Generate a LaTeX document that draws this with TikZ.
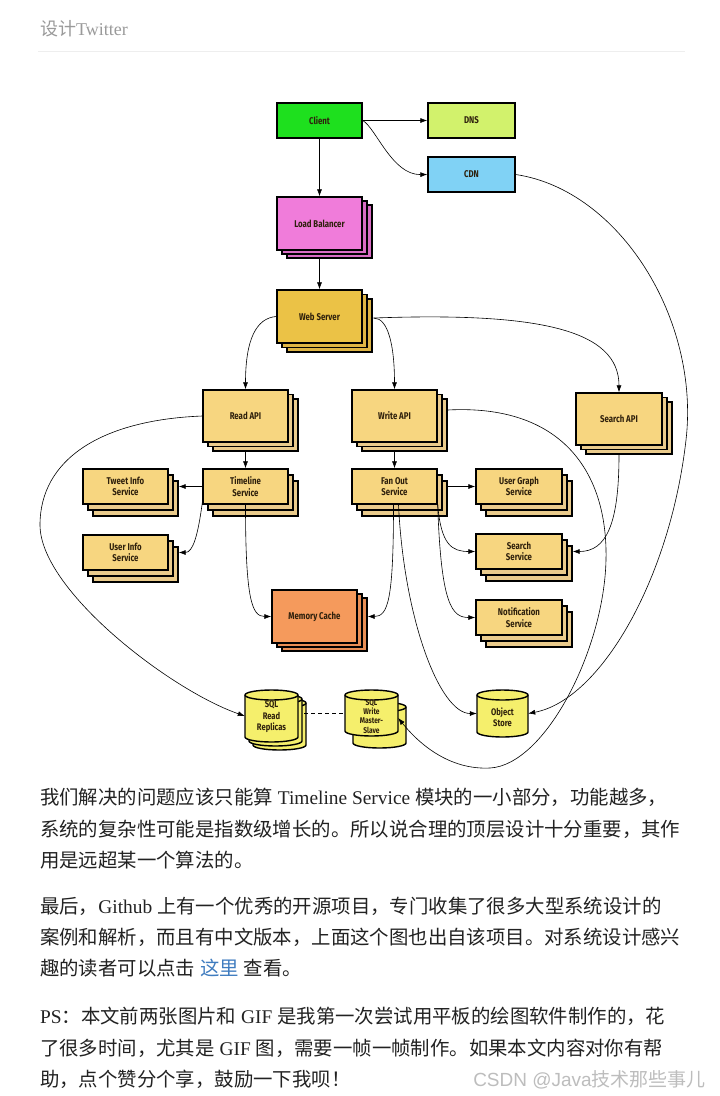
\documentclass[tikz,border=0pt]{standalone}
\usepackage{fontspec}
\setmainfont{Liberation Serif}
\newfontfamily\cjk{Noto Sans CJK SC}
\newfontfamily\hand{Fira Sans}[FakeStretch=0.8]
\newfontfamily\wmsans{Liberation Sans}
\usetikzlibrary{arrows.meta,calc}
\definecolor{clientG}{HTML}{1EE01E}
\definecolor{dnsC}{HTML}{D2F26C}
\definecolor{cdnC}{HTML}{80D2F5}
\definecolor{lbF}{HTML}{F07CDA}
\definecolor{lbB}{HTML}{D96CC4}
\definecolor{webF}{HTML}{EBC246}
\definecolor{webB}{HTML}{DDB444}
\definecolor{apiF}{HTML}{F7D680}
\definecolor{apiB}{HTML}{EACB8C}
\definecolor{memF}{HTML}{F59A5C}
\definecolor{memB}{HTML}{E88E55}
\definecolor{cylC}{HTML}{F5EF6C}
\definecolor{txtC}{HTML}{222222}
\definecolor{boxtxt}{HTML}{2E200C}
\definecolor{linkC}{HTML}{3F7CBF}
\definecolor{titleC}{HTML}{9A9A9A}
\definecolor{ruleC}{HTML}{EEEEEE}
\definecolor{wmC}{HTML}{BDBDBD}
\tikzset{
  box/.style={draw=black, line width=1.4pt, inner sep=0pt, align=center,
    text=boxtxt, font=\hand\bfseries\fontsize{9.8}{11.5}\selectfont},
  layer/.style={draw=black, line width=1.4pt},
  cylst/.style={draw=black, line width=1.4pt, fill=cylC},
  cyltxt/.style={inner sep=0pt, align=center, text=boxtxt,
    font=\hand\bfseries\fontsize{9.5}{11.5}\selectfont},
  arr/.style={-{Latex[length=7pt,width=5pt]}, line width=0.6pt},
  body/.style={anchor=base west, inner sep=0pt, text=txtC,
    font=\fontsize{19.4}{24}\selectfont},
}
% stacked box: name, x1, y1, x2, y2, front colour, back colour, dy, text
\newcommand{\mkstack}[9]{%
  \filldraw[layer, fill=#7] ({#2+10},{#3+2*#8}) rectangle ({#4+10},{#5+2*#8});
  \filldraw[layer, fill=#7] ({#2+5},{#3+#8}) rectangle ({#4+5},{#5+#8});
  \node[box, fill=#6, minimum width={#4-#2}, minimum height={#5-#3}]
    (#1) at ({(#2+#4)/2},{(#3+#5)/2}) {#9};
}
% cylinder outline: x1, y1, x2, y2
\newcommand{\cylshape}[4]{%
  \pgfmathsetmacro\crx{(#3-#1)/2}%
  \filldraw[cylst] (#1,{#2+5}) -- (#1,{#4-5})
    arc[start angle=180, end angle=360, x radius=\crx pt, y radius=5pt]
    -- (#3,{#2+5})
    arc[start angle=0, end angle=180, x radius=\crx pt, y radius=5pt] -- cycle;
  \draw[cylst, fill=none] (#1,{#2+5})
    arc[start angle=180, end angle=360, x radius=\crx pt, y radius=5pt];
}
\begin{document}
\begin{tikzpicture}[x=1pt, y=-1pt]
\useasboundingbox (0,0) rectangle (720,1096);
\fill[white] (0,0) rectangle (720,1096);

% header
\node[anchor=base west, inner sep=0pt, text=titleC, font=\fontsize{18}{22}\selectfont]
  (title) at (40,35.5) {{\cjk 设计}Twitter};
\draw[ruleC, line width=0.8pt] (38,51) -- (685,51);

% single boxes
\node[box, fill=clientG, minimum width=85, minimum height=35] (client) at (319.5,120.5) {Client};
\node[box, fill=dnsC, minimum width=87, minimum height=35] (dns) at (471.5,120.5) {DNS};
\node[box, fill=cdnC, minimum width=87, minimum height=35] (cdn) at (471.5,174.5) {CDN};

% stacked boxes
\mkstack{lb}{277}{197}{362}{250}{lbF}{lbB}{4}{Load Balancer}
\mkstack{web}{277}{290}{362}{343}{webF}{webB}{4.5}{Web Server}
\mkstack{read}{203}{390}{288}{442}{apiF}{apiB}{4.5}{Read API}
\mkstack{write}{352}{390}{437}{442}{apiF}{apiB}{4.5}{Write API}
\mkstack{sapi}{576}{393}{662}{445}{apiF}{apiB}{4.5}{Search API}
\mkstack{timeline}{203}{469}{288}{504}{apiF}{apiB}{6}{Timeline\\Service}
\mkstack{fanout}{352}{469}{437}{504}{apiF}{apiB}{6}{Fan Out\\Service}
\mkstack{tweet}{83}{469}{168}{504}{apiF}{apiB}{6}{Tweet Info\\Service}
\mkstack{userinfo}{83}{535}{168}{570}{apiF}{apiB}{6}{User Info\\Service}
\mkstack{usergraph}{476}{469}{562}{504}{apiF}{apiB}{6}{User Graph\\Service}
\mkstack{searchsvc}{476}{534}{562}{569}{apiF}{apiB}{6}{Search\\Service}
\mkstack{notif}{476}{600}{562}{635}{apiF}{apiB}{6}{Notification\\Service}
\mkstack{mem}{272}{590}{357}{643}{memF}{memB}{4}{Memory Cache}

% cylinders
\cylshape{253}{698}{306}{750}
\cylshape{249}{694}{302}{746}
\cylshape{245}{690}{298}{742}
\node[inner sep=0pt, minimum width=53, minimum height=52] (sqlread) at (271.5,716) {};
\node[cyltxt] (sqlreadtxt) at (271.5,717) {SQL\\Read\\Replicas};
\cylshape{353}{702}{406}{748}
\cylshape{345}{690}{398}{736}
\node[inner sep=0pt, minimum width=53, minimum height=46] (sqlwrite) at (371.5,713) {};
\node[cyltxt, font=\hand\bfseries\fontsize{8.3}{9.2}\selectfont] (sqlwritetxt) at (371.5,716.5) {SQL\\Write\\Master-\\Slave};
\cylshape{477}{690}{528}{737}
\node[inner sep=0pt, minimum width=51, minimum height=47] (objstore) at (502.5,713.5) {};
\node[cyltxt] (objstoretxt) at (502.5,717) {Object\\Store};

% connectors
\draw[arr] (client.east) -- (dns.west);
\draw[arr] (client.east) .. controls (376,128) and (392,175) .. (cdn.west);
\draw[arr] (client.south) -- (lb.north);
\draw[arr] ($(lb.south)+(0,8)$) -- (web.north);
\draw[arr] (web.west) .. controls (256,318) and (245.5,340) .. (read.north);
\draw[arr] ($(web.east)+(11,1.5)$) .. controls (388,318) and (394.5,345) .. (write.north);
\draw[arr] ($(web.east)+(11,1.5)$) .. controls (540,312) and (619,330) .. (sapi.north);
\draw[arr] ($(read.south)+(0,9)$) -- (timeline.north);
\draw[arr] ($(write.south)+(0,9)$) -- (fanout.north);
\draw[arr] (timeline.west) -- ($(tweet.east)+(10,0)$);
\draw[arr] ($(timeline.south west)+(0,-2)$) .. controls (198,535) and (193,552.5) .. ($(userinfo.east)+(10,0)$);
\draw[arr] (timeline.south) .. controls (245.5,600) and (252,616.5) .. (mem.west);
\draw[arr] ($(fanout.east)+(10,0)$) -- (usergraph.west);
\draw[arr] (fanout.south east) .. controls (441,545) and (452,551.5) .. (searchsvc.west);
\draw[arr] (fanout.south east) .. controls (441,605) and (452,617.5) .. (notif.west);
\draw[arr] ($(fanout.south)+(-1,0)$) .. controls (393.5,600) and (388,616.5) .. ($(mem.east)+(10,0)$);
\draw[arr] ($(fanout.south)+(4,0)$) .. controls (404,620) and (440,713.5) .. (objstore.west);
\draw[arr] ($(sapi.south)+(0,9)$) .. controls (619,525) and (606,551.5) .. ($(searchsvc.east)+(10,0)$);
\draw[arr] (read.west) .. controls (100,420) and (40,460) .. (40,525)
  .. controls (40,590) and (170,690) .. (sqlread.west);
\draw[line width=0.6pt, dash pattern=on 4pt off 3pt] ($(sqlread.east |- sqlwrite.west)+(6,0)$) -- (sqlwrite.west);
\draw[arr] ($(write.east)+(10,-6)$) .. controls (560,404) and (608,470) .. (606,560)
  .. controls (604,650) and (545,765) .. (490,768)
  .. controls (450,770) and (420,745) .. ($(sqlwrite.east)+(0,5)$);
\draw[arr] (cdn.east) .. controls (620,190) and (700,320) .. (686,440)
  .. controls (670,580) and (600,700) .. (objstore.east);

% body text
\node[body] (p1a) at (40,804.5) {{\cjk 我们解决的问题应该只能算} Timeline Service {\cjk 模块的一小部分，功能越多，}};
\node[body] (p1b) at (40,836.5) {{\cjk 系统的复杂性可能是指数级增长的。所以说合理的顶层设计十分重要，其作}};
\node[body] (p1c) at (40,867.5) {{\cjk 用是远超某一个算法的。}};
\node[body] (p2a) at (40,913.5) {{\cjk 最后，}Github {\cjk 上有一个优秀的开源项目，专门收集了很多大型系统设计的}};
\node[body] (p2b) at (40,944.5) {{\cjk 案例和解析，而且有中文版本，上面这个图也出自该项目。对系统设计感兴}};
\node[body] (p2c) at (40,975.5) {{\cjk 趣的读者可以点击} {\cjk\color{linkC}这里} {\cjk 查看。}};
\node[body] (p3a) at (40,1023.5) {PS{\cjk ：本文前两张图片和} GIF {\cjk 是我第一次尝试用平板的绘图软件制作的，花}};
\node[body] (p3b) at (40,1055.5) {{\cjk 了很多时间，尤其是} GIF {\cjk 图，需要一帧一帧制作。如果本文内容对你有帮}};
\node[body] (p3c) at (40,1086.5) {{\cjk 助，点个赞分个享，鼓励一下我呗！}};

% watermark
\node[anchor=base east, inner sep=0pt, text=wmC, font=\fontsize{19}{22}\selectfont]
  (wm) at (706,1086) {\wmsans CSDN @Java{\cjk 技术那些事儿}};
\end{tikzpicture}
\end{document}
